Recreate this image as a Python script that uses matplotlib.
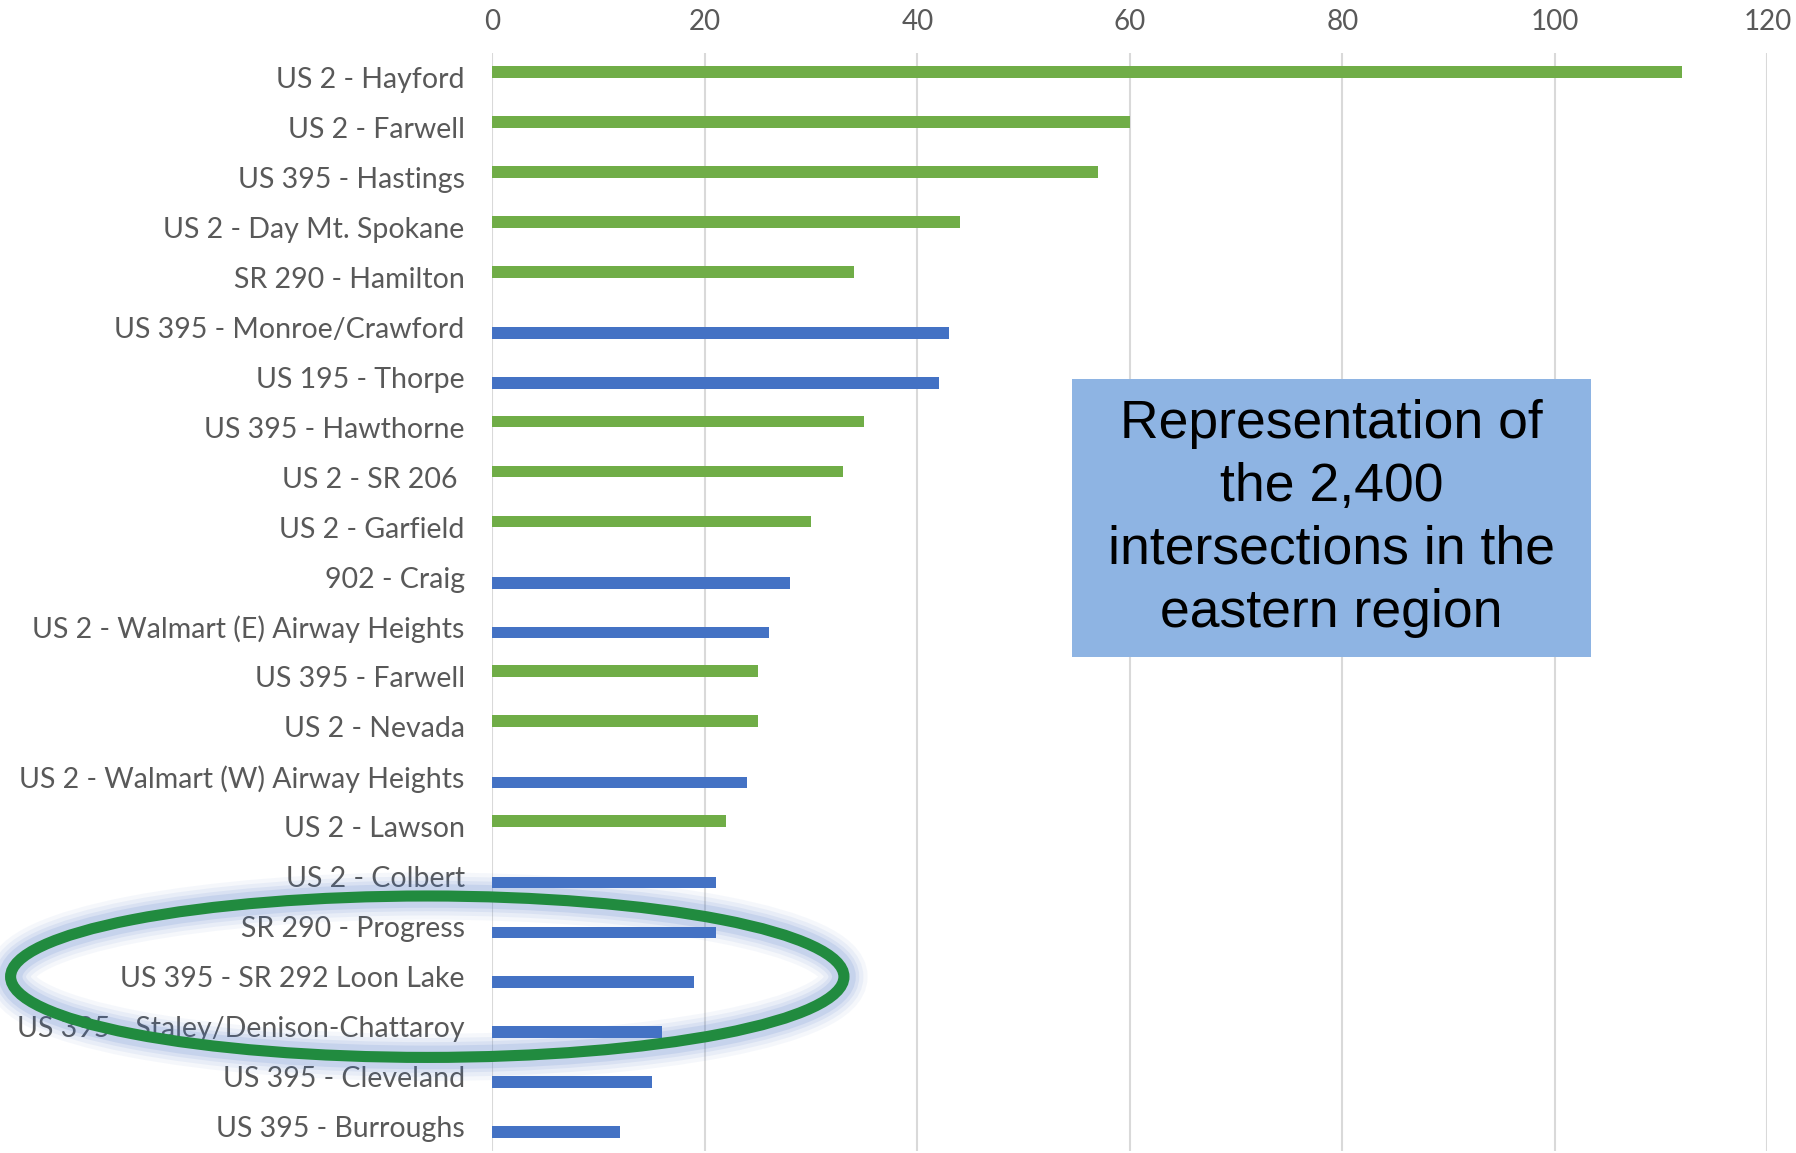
import matplotlib.pyplot as plt
from matplotlib.patches import Ellipse, Rectangle
import numpy as np

categories = [
    "US 2 - Hayford", "US 2 - Farwell", "US 395 - Hastings", "US 2 - Day Mt. Spokane",
    "SR 290 - Hamilton", "US 395 - Monroe/Crawford", "US 195 - Thorpe", "US 395 - Hawthorne",
    "US 2 - SR 206 ", "US 2 - Garfield", "902 - Craig", "US 2 - Walmart (E) Airway Heights",
    "US 395 - Farwell", "US 2 - Nevada", "US 2 - Walmart (W) Airway Heights", "US 2 - Lawson",
    "US 2 - Colbert", "SR 290 - Progress", "US 395 - SR 292 Loon Lake",
    "US 395 - Staley/Denison-Chattaroy", "US 395 - Cleveland", "US 395 - Burroughs",
]
# two series: green rows and blue rows (0 = no bar in that series)
green_vals = [112, 60, 57, 44, 34, 0, 0, 35, 33, 30, 0, 0, 25, 25, 0, 22, 0, 0, 0, 0, 0, 0]
blue_vals = [0, 0, 0, 0, 0, 43, 42, 0, 0, 0, 28, 26, 0, 0, 24, 0, 21, 21, 19, 16, 15, 12]
x_ticks = [0, 20, 40, 60, 80, 100, 120]
note = "Representation of\nthe 2,400\nintersections in the\neastern region"

GREEN = "#70AD47"
BLUE = "#4472C4"
GREY = "#595959"

fig = plt.figure(figsize=(17.96, 11.53), dpi=100)
ax = fig.add_axes([0.2742, 0.0016, 0.7099, 0.9525])

y = np.arange(len(categories))
h = 0.23
ax.barh(y - h / 2, green_vals, height=h, color=GREEN, zorder=3)
ax.barh(y + h / 2, blue_vals, height=h, color=BLUE, zorder=3)

ax.set_xlim(0, 120)
ax.set_ylim(len(categories) - 0.5, -0.5)
ax.set_xticks(x_ticks)
ax.set_yticks(y)
ax.set_yticklabels(categories, fontsize=20.5, color=GREY, family="Lato")
ax.xaxis.tick_top()
for lab in ax.get_xticklabels():
    lab.set_fontsize(20)
    lab.set_color(GREY)
    lab.set_family("Lato")
ax.tick_params(axis="x", length=0, pad=13)
ax.tick_params(axis="y", length=0, pad=20)
ax.grid(axis="x", color="#D9D9D9", linewidth=1.5, zorder=0)
for s in ax.spines.values():
    s.set_visible(False)

# blue note box
fig.patches.append(Rectangle((0.597, 0.43), 0.2888, 0.2413, transform=fig.transFigure,
                             facecolor="#8EB4E3", edgecolor="none", zorder=5))
fig.text(0.7414, 0.5505, note, ha="center", va="center", fontsize=38.5,
         family="Liberation Sans", color="black", linespacing=1.33, zorder=6)

# green ellipse with soft blue glow
cx, cy, ew, eh = 0.2379, 0.1529, 0.4640, 0.140
for lw, a in [(34, 0.05), (28, 0.07), (22, 0.09), (17, 0.12)]:
    fig.patches.append(Ellipse((cx, cy), ew, eh, transform=fig.transFigure, fill=False,
                               edgecolor="#4472C4", linewidth=lw, alpha=a, zorder=7))
fig.patches.append(Ellipse((cx, cy), ew, eh, transform=fig.transFigure, fill=False,
                           edgecolor="#218B3F", linewidth=8, zorder=8))

fig.savefig("out.png", dpi=100)
